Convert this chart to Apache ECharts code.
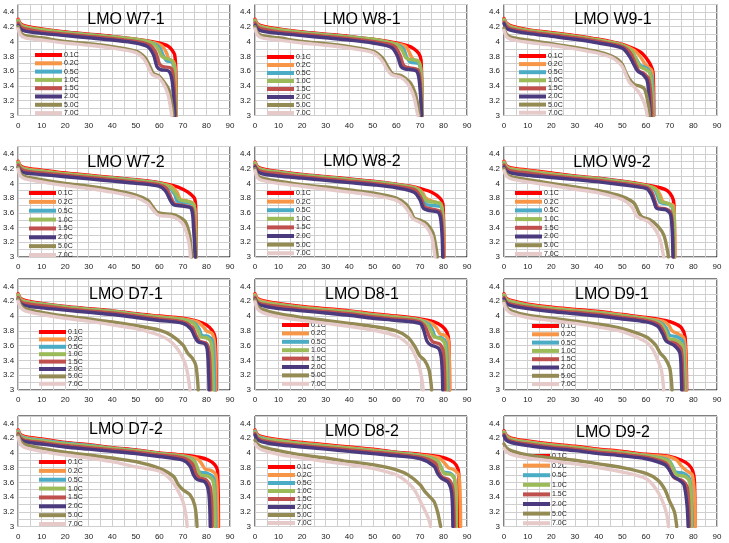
<!DOCTYPE html>
<html><head><meta charset="utf-8">
<script src="https://cdn.jsdelivr.net/npm/echarts/dist/echarts.min.js"></script>
<style>html,body{margin:0;padding:0;background:#fff}#c{width:729px;height:543px}</style>
</head><body><div id="c"></div>
<script>
const rates = ['0.1C','0.2C','0.5C','1.0C','1.5C','2.0C','5.0C','7.0C'];
const panelTitles = ['LMO W7-1','LMO W8-1','LMO W9-1','LMO W7-2','LMO W8-2','LMO W9-2','LMO D7-1','LMO D8-1','LMO D9-1','LMO D7-2','LMO D8-2','LMO D9-2'];
const xLabels = ['0','10','20','30','40','50','60','70','80','90'];
const yLabels = ['3','3.2','3.4','3.6','3.8','4','4.2','4.4'];

const W7_1 = [
 [[0,4.30],[1,4.24],[3,4.21],[10,4.17],[20,4.13],[30,4.10],[40,4.07],[50,4.03],[58,3.99],[62,3.96],[64,3.93],[65.5,3.88],[66.5,3.82],[67,3.6],[67.2,3.0]],
 [[0,4.29],[1,4.23],[3,4.20],[10,4.16],[20,4.12],[30,4.09],[40,4.06],[50,4.02],[58,3.98],[61,3.94],[63,3.85],[64,3.76],[66,3.73],[66.8,3.6],[67.1,3.0]],
 [[0,4.28],[1,4.22],[3,4.19],[10,4.15],[20,4.12],[30,4.09],[40,4.06],[50,4.02],[57,3.98],[60,3.92],[61.5,3.82],[63,3.74],[65.5,3.72],[66.5,3.6],[67,3.0]],
 [[0,4.28],[1,4.22],[3,4.19],[10,4.16],[20,4.12],[30,4.09],[40,4.06],[50,4.03],[57,3.98],[59.5,3.9],[61,3.8],[62,3.78],[65.5,3.74],[66.5,3.6],[67,3.0]],
 [[0,4.25],[1,4.2],[3,4.17],[10,4.13],[20,4.1],[30,4.07],[40,4.04],[50,4.0],[56,3.95],[58.5,3.85],[60,3.7],[61.5,3.66],[65,3.64],[66,3.5],[66.8,3.0]],
 [[0,4.22],[1,4.17],[3,4.14],[10,4.11],[20,4.08],[30,4.05],[40,4.02],[50,3.98],[55,3.93],[57.5,3.82],[59,3.66],[60.5,3.62],[64,3.6],[65.5,3.45],[66.5,3.0]],
 [[0,4.2],[1,4.12],[3,4.08],[10,4.05],[20,4.0],[30,3.97],[40,3.93],[50,3.87],[54,3.78],[56,3.66],[57.5,3.57],[60,3.53],[62,3.45],[64,3.35],[65.5,3.1],[65.8,3.0]],
 [[0,4.17],[1,4.09],[3,4.05],[10,4.02],[20,3.98],[30,3.95],[40,3.91],[50,3.85],[53.5,3.76],[55.5,3.64],[57,3.55],[59.5,3.52],[61.5,3.44],[63.5,3.3],[64.8,3.1],[65.2,3.0]]
];
const W8_1 = [
 [[0,4.3],[1,4.24],[3,4.21],[10,4.17],[20,4.13],[30,4.1],[40,4.07],[50,4.03],[60,3.98],[65,3.94],[67.5,3.9],[69.5,3.84],[70.5,3.75],[71,3.0]],
 [[0,4.29],[1,4.23],[3,4.2],[10,4.16],[20,4.12],[30,4.09],[40,4.06],[50,4.02],[60,3.97],[64,3.93],[66,3.82],[67.5,3.74],[69.5,3.72],[70.5,3.6],[71,3.0]],
 [[0,4.28],[1,4.22],[3,4.19],[10,4.15],[20,4.12],[30,4.09],[40,4.06],[50,4.02],[60,3.96],[63,3.9],[64.5,3.78],[66,3.72],[69.5,3.7],[70.5,3.55],[70.9,3.0]],
 [[0,4.28],[1,4.22],[3,4.19],[10,4.16],[20,4.12],[30,4.09],[40,4.06],[50,4.03],[60,3.96],[62.5,3.88],[64,3.78],[65.5,3.76],[69.5,3.73],[70.5,3.55],[70.9,3.0]],
 [[0,4.25],[1,4.2],[3,4.17],[10,4.13],[20,4.1],[30,4.07],[40,4.04],[50,4.0],[59,3.94],[61.5,3.82],[63,3.68],[64.5,3.65],[69,3.62],[70,3.5],[70.8,3.0]],
 [[0,4.22],[1,4.17],[3,4.14],[10,4.11],[20,4.08],[30,4.05],[40,4.02],[50,3.98],[58,3.92],[60.5,3.8],[62,3.66],[63.5,3.63],[68.5,3.6],[69.8,3.45],[70.7,3.0]],
 [[0,4.2],[1,4.12],[3,4.08],[10,4.05],[20,4.0],[30,3.97],[40,3.93],[50,3.87],[54,3.78],[56.5,3.65],[58.5,3.56],[62,3.54],[64,3.5],[66,3.44],[68,3.3],[69.3,3.1],[69.6,3.0]],
 [[0,4.17],[1,4.09],[3,4.05],[10,4.02],[20,3.98],[30,3.95],[40,3.91],[50,3.85],[53.5,3.76],[56,3.63],[58,3.55],[61.5,3.52],[63.5,3.48],[65.5,3.4],[67.5,3.25],[68.8,3.05],[69.2,3.0]]
];
const W9_1 = [
 [[0,4.31],[1,4.25],[3,4.21],[10,4.16],[20,4.12],[30,4.08],[40,4.03],[50,3.96],[55,3.9],[58,3.85],[60,3.78],[62,3.68],[63,3.58],[63.3,3.0]],
 [[0,4.3],[1,4.24],[3,4.2],[10,4.15],[20,4.11],[30,4.07],[40,4.02],[50,3.95],[55,3.88],[57.5,3.8],[59.5,3.7],[61,3.65],[62.5,3.6],[63.2,3.0]],
 [[0,4.29],[1,4.23],[3,4.19],[10,4.14],[20,4.1],[30,4.06],[40,4.01],[50,3.94],[54,3.86],[56,3.76],[57.5,3.68],[59,3.66],[61,3.62],[62.5,3.5],[63,3.0]],
 [[0,4.29],[1,4.23],[3,4.19],[10,4.15],[20,4.11],[30,4.07],[40,4.02],[50,3.95],[54,3.87],[56,3.75],[57.5,3.66],[59.5,3.63],[61.5,3.58],[62.4,3.4],[62.8,3.0]],
 [[0,4.26],[1,4.21],[3,4.17],[10,4.13],[20,4.09],[30,4.05],[40,4.0],[50,3.93],[53.5,3.84],[55.5,3.7],[57,3.6],[59,3.57],[61,3.5],[62,3.3],[62.5,3.0]],
 [[0,4.24],[1,4.18],[3,4.15],[10,4.11],[20,4.07],[30,4.03],[40,3.98],[50,3.91],[53,3.8],[55,3.68],[56.5,3.6],[58.5,3.56],[60.5,3.47],[61.4,3.2],[61.8,3.0]],
 [[0,4.18],[1,4.1],[3,4.06],[10,4.02],[20,3.97],[30,3.92],[40,3.86],[45,3.81],[48,3.76],[50,3.69],[51.5,3.58],[53,3.49],[55,3.42],[58,3.39],[59.5,3.35],[61,3.15],[61.5,3.0]],
 [[0,4.15],[1,4.07],[3,4.03],[10,3.99],[20,3.95],[30,3.9],[40,3.84],[45,3.79],[48,3.73],[50,3.66],[51.5,3.55],[53,3.45],[55.5,3.37],[57.5,3.29],[59.5,3.15],[60.5,3.0]]
];
const W7_2 = [
 [[0,4.3],[1,4.24],[3,4.21],[10,4.18],[20,4.14],[30,4.11],[40,4.08],[50,4.05],[60,4.01],[66,3.97],[70,3.92],[73,3.86],[75,3.79],[75.5,3.6],[75.7,3.0]],
 [[0,4.29],[1,4.23],[3,4.2],[10,4.17],[20,4.13],[30,4.1],[40,4.07],[50,4.04],[60,4.0],[65,3.96],[67.5,3.88],[69,3.78],[72,3.76],[74.5,3.72],[75.3,3.5],[75.6,3.0]],
 [[0,4.28],[1,4.22],[3,4.19],[10,4.16],[20,4.12],[30,4.09],[40,4.07],[50,4.04],[60,4.0],[64,3.95],[66.5,3.85],[67.5,3.76],[70,3.74],[74.5,3.71],[75.2,3.5],[75.5,3.0]],
 [[0,4.28],[1,4.22],[3,4.19],[10,4.16],[20,4.13],[30,4.1],[40,4.07],[50,4.04],[60,4.0],[64.5,3.95],[67,3.86],[68.5,3.78],[71,3.76],[74.5,3.72],[75.2,3.5],[75.5,3.0]],
 [[0,4.25],[1,4.2],[3,4.17],[10,4.14],[20,4.11],[30,4.08],[40,4.05],[50,4.02],[60,3.98],[63,3.93],[65,3.8],[66.5,3.72],[70,3.7],[74,3.66],[74.8,3.4],[75.3,3.0]],
 [[0,4.22],[1,4.17],[3,4.14],[10,4.12],[20,4.09],[30,4.06],[40,4.03],[50,4.0],[60,3.96],[62.5,3.9],[64.5,3.78],[66,3.71],[70,3.69],[73.5,3.66],[74.5,3.4],[75.2,3.0]],
 [[0,4.22],[1,4.13],[3,4.09],[10,4.05],[20,4.0],[30,3.96],[40,3.91],[50,3.84],[55,3.77],[57,3.69],[59,3.61],[61,3.59],[65,3.58],[68,3.55],[71,3.48],[72.8,3.3],[73.7,3.0]],
 [[0,4.19],[1,4.1],[3,4.06],[10,4.02],[20,3.97],[30,3.93],[40,3.88],[50,3.81],[55,3.73],[57,3.65],[59,3.58],[61,3.56],[65,3.55],[68,3.51],[70.5,3.42],[72.5,3.2],[73.2,3.0]]
];
const W8_2 = [
 [[0,4.29],[1,4.23],[3,4.2],[10,4.16],[20,4.12],[30,4.09],[40,4.06],[50,4.03],[60,3.99],[66,3.96],[70,3.93],[75,3.88],[78.5,3.8],[79.8,3.72],[80.2,3.0]],
 [[0,4.28],[1,4.22],[3,4.19],[10,4.15],[20,4.11],[30,4.08],[40,4.05],[50,4.02],[60,3.98],[68,3.94],[71,3.88],[72.5,3.8],[75,3.76],[78.5,3.72],[79.7,3.6],[80.1,3.0]],
 [[0,4.27],[1,4.21],[3,4.18],[10,4.15],[20,4.11],[30,4.08],[40,4.05],[50,4.02],[60,3.98],[69,3.92],[71,3.84],[72.5,3.72],[75,3.7],[79,3.68],[79.7,3.5],[80,3.0]],
 [[0,4.27],[1,4.21],[3,4.18],[10,4.15],[20,4.11],[30,4.08],[40,4.05],[50,4.02],[60,3.98],[69,3.92],[71.5,3.82],[73,3.76],[77,3.74],[79,3.72],[79.7,3.5],[80,3.0]],
 [[0,4.24],[1,4.19],[3,4.16],[10,4.13],[20,4.09],[30,4.06],[40,4.03],[50,4.0],[60,3.96],[68,3.91],[70.5,3.8],[72,3.68],[75,3.65],[78.5,3.62],[79.5,3.4],[79.9,3.0]],
 [[0,4.22],[1,4.16],[3,4.13],[10,4.1],[20,4.07],[30,4.04],[40,4.01],[50,3.98],[60,3.94],[67.5,3.88],[70,3.78],[71.5,3.66],[74,3.63],[78,3.6],[79.2,3.4],[79.7,3.0]],
 [[0,4.2],[1,4.11],[3,4.07],[10,4.03],[20,3.98],[30,3.95],[40,3.91],[50,3.87],[60,3.8],[64,3.72],[66,3.63],[67.5,3.53],[70,3.5],[73,3.45],[75.5,3.33],[77,3.1],[77.4,3.0]],
 [[0,4.17],[1,4.08],[3,4.04],[10,4.0],[20,3.96],[30,3.92],[40,3.88],[50,3.84],[60,3.77],[63.5,3.69],[65.5,3.6],[67,3.52],[69.5,3.48],[72.5,3.42],[75,3.28],[76.2,3.05],[76.4,3.0]]
];
const W9_2 = [
 [[0,4.3],[1,4.24],[3,4.21],[10,4.18],[20,4.14],[30,4.1],[40,4.07],[50,4.03],[60,3.98],[66,3.94],[69,3.9],[71,3.82],[71.8,3.72],[72.1,3.0]],
 [[0,4.29],[1,4.23],[3,4.2],[10,4.17],[20,4.13],[30,4.09],[40,4.06],[50,4.02],[60,3.97],[64,3.93],[66,3.84],[67,3.76],[69,3.73],[71.5,3.7],[72,3.5],[72.2,3.0]],
 [[0,4.28],[1,4.22],[3,4.19],[10,4.16],[20,4.12],[30,4.09],[40,4.06],[50,4.02],[60,3.96],[63.5,3.92],[65,3.82],[66,3.74],[69,3.72],[71,3.68],[71.7,3.5],[72,3.0]],
 [[0,4.28],[1,4.22],[3,4.19],[10,4.16],[20,4.12],[30,4.09],[40,4.06],[50,4.02],[60,3.97],[64,3.92],[65.5,3.82],[66.5,3.75],[69,3.73],[71.2,3.68],[71.8,3.5],[72,3.0]],
 [[0,4.25],[1,4.2],[3,4.17],[10,4.14],[20,4.1],[30,4.07],[40,4.04],[50,4.0],[60,3.95],[62.5,3.88],[64,3.74],[65,3.67],[68.5,3.65],[70.5,3.6],[71.2,3.4],[71.6,3.0]],
 [[0,4.22],[1,4.17],[3,4.14],[10,4.11],[20,4.08],[30,4.05],[40,4.02],[50,3.98],[60,3.93],[62,3.86],[63.5,3.74],[64.5,3.66],[68.5,3.64],[70.3,3.58],[71,3.4],[71.4,3.0]],
 [[0,4.2],[1,4.13],[3,4.09],[10,4.05],[20,4.0],[30,3.95],[40,3.9],[50,3.82],[55,3.73],[57,3.6],[58.5,3.54],[62,3.5],[65,3.42],[67.5,3.3],[69,3.1],[69.5,3.0]],
 [[0,4.17],[1,4.1],[3,4.06],[10,4.02],[20,3.97],[30,3.92],[40,3.87],[50,3.78],[54,3.68],[56,3.56],[58,3.52],[61,3.48],[64,3.37],[66,3.23],[67.2,3.05],[67.5,3.0]]
];
const D7_1 = [
 [[0,4.3],[1,4.24],[3,4.21],[10,4.17],[20,4.13],[30,4.1],[40,4.07],[50,4.03],[60,4.0],[70,3.97],[76,3.93],[80,3.88],[82.5,3.8],[83.7,3.7],[84.1,3.0]],
 [[0,4.29],[1,4.23],[3,4.2],[10,4.16],[20,4.12],[30,4.09],[40,4.06],[50,4.02],[60,3.99],[70,3.96],[76,3.92],[78.5,3.86],[80,3.8],[82.5,3.76],[83.5,3.6],[83.9,3.0]],
 [[0,4.28],[1,4.22],[3,4.19],[10,4.16],[20,4.12],[30,4.09],[40,4.06],[50,4.02],[60,3.98],[70,3.95],[75,3.9],[77,3.82],[78,3.74],[81,3.72],[82.5,3.66],[83.2,3.4],[83.5,3.0]],
 [[0,4.28],[1,4.22],[3,4.19],[10,4.16],[20,4.12],[30,4.09],[40,4.06],[50,4.02],[60,3.98],[70,3.95],[74.5,3.9],[76.5,3.8],[77.5,3.72],[80.5,3.7],[82,3.64],[82.6,3.4],[82.9,3.0]],
 [[0,4.25],[1,4.2],[3,4.17],[10,4.14],[20,4.1],[30,4.07],[40,4.04],[50,4.0],[60,3.96],[70,3.92],[74,3.85],[75.5,3.74],[77,3.66],[80,3.63],[81.2,3.5],[81.8,3.0]],
 [[0,4.23],[1,4.17],[3,4.14],[10,4.11],[20,4.08],[30,4.05],[40,4.02],[50,3.98],[60,3.94],[70,3.9],[73.5,3.82],[75,3.72],[76.5,3.65],[79.5,3.62],[80.5,3.5],[81.1,3.0]],
 [[0,4.23],[1,4.15],[3,4.1],[10,4.05],[20,4.0],[30,3.96],[40,3.92],[50,3.87],[60,3.81],[65,3.74],[70,3.61],[72,3.5],[74,3.43],[75.5,3.33],[76.3,3.1],[76.5,3.0]],
 [[0,4.2],[1,4.12],[3,4.07],[10,4.02],[20,3.97],[30,3.93],[40,3.88],[50,3.83],[60,3.74],[65,3.65],[68,3.54],[70,3.43],[71.5,3.3],[72.5,3.12],[73,3.0]]
];
const D8_1 = [
 [[0,4.3],[1,4.24],[3,4.21],[10,4.17],[20,4.13],[30,4.1],[40,4.07],[50,4.03],[60,4.0],[70,3.96],[76,3.92],[79.5,3.86],[81.5,3.78],[82.3,3.65],[82.6,3.0]],
 [[0,4.29],[1,4.23],[3,4.2],[10,4.16],[20,4.12],[30,4.09],[40,4.06],[50,4.02],[60,3.99],[70,3.95],[75,3.9],[77,3.84],[78.5,3.76],[80.5,3.74],[82,3.68],[82.5,3.4],[82.7,3.0]],
 [[0,4.27],[1,4.21],[3,4.18],[10,4.15],[20,4.11],[30,4.08],[40,4.05],[50,4.01],[60,3.98],[70,3.94],[74,3.88],[75.5,3.8],[76.5,3.72],[79.5,3.7],[81,3.64],[81.6,3.4],[81.9,3.0]],
 [[0,4.27],[1,4.21],[3,4.18],[10,4.15],[20,4.11],[30,4.08],[40,4.05],[50,4.01],[60,3.98],[70,3.94],[73.5,3.87],[75,3.78],[76,3.72],[79,3.69],[80.8,3.6],[81.4,3.0]],
 [[0,4.25],[1,4.19],[3,4.16],[10,4.13],[20,4.09],[30,4.06],[40,4.03],[50,3.99],[60,3.96],[70,3.92],[72.5,3.84],[74,3.72],[75.5,3.65],[78.5,3.62],[80,3.5],[80.6,3.0]],
 [[0,4.23],[1,4.17],[3,4.14],[10,4.1],[20,4.07],[30,4.04],[40,4.01],[50,3.97],[60,3.94],[70,3.9],[71.5,3.82],[73,3.66],[74.5,3.61],[78,3.56],[79.2,3.4],[79.7,3.0]],
 [[0,4.22],[1,4.14],[3,4.09],[10,4.03],[20,3.98],[30,3.94],[40,3.9],[50,3.86],[60,3.8],[65,3.71],[68,3.58],[70,3.46],[72,3.4],[73.8,3.28],[74.7,3.1],[75,3.0]],
 [[0,4.19],[1,4.1],[3,4.05],[10,3.99],[20,3.94],[30,3.9],[40,3.86],[50,3.81],[60,3.73],[65,3.62],[67.5,3.5],[69.5,3.34],[70.8,3.15],[71.4,3.0]]
];
const D9_1 = [
 [[0,4.3],[1,4.24],[3,4.21],[10,4.16],[20,4.12],[30,4.09],[40,4.06],[50,4.02],[60,3.98],[68,3.94],[72,3.9],[75,3.84],[76.5,3.72],[77.2,3.0]],
 [[0,4.29],[1,4.23],[3,4.2],[10,4.15],[20,4.11],[30,4.08],[40,4.05],[50,4.01],[60,3.97],[67,3.93],[69.5,3.88],[71,3.8],[73.5,3.76],[76,3.7],[76.8,3.4],[77,3.0]],
 [[0,4.28],[1,4.22],[3,4.19],[10,4.14],[20,4.1],[30,4.07],[40,4.04],[50,4.0],[60,3.96],[66,3.91],[68.5,3.84],[70,3.74],[73,3.72],[75.5,3.66],[76.2,3.4],[76.5,3.0]],
 [[0,4.28],[1,4.22],[3,4.19],[10,4.14],[20,4.1],[30,4.07],[40,4.04],[50,4.0],[60,3.96],[66,3.9],[68,3.82],[69.5,3.7],[73,3.67],[75.5,3.6],[76,3.3],[76.2,3.0]],
 [[0,4.25],[1,4.19],[3,4.16],[10,4.12],[20,4.08],[30,4.05],[40,4.02],[50,3.98],[60,3.94],[65.5,3.88],[67.5,3.78],[69,3.66],[72.5,3.63],[74.8,3.55],[75.4,3.3],[75.7,3.0]],
 [[0,4.23],[1,4.17],[3,4.14],[10,4.1],[20,4.06],[30,4.03],[40,4.0],[50,3.96],[60,3.92],[65,3.86],[67,3.76],[68.5,3.66],[72,3.6],[74.3,3.5],[74.9,3.2],[75.1,3.0]],
 [[0,4.2],[1,4.12],[3,4.07],[10,4.01],[20,3.97],[30,3.93],[40,3.89],[50,3.83],[60,3.72],[64,3.61],[66,3.5],[68,3.43],[70,3.3],[70.8,3.1],[71,3.0]],
 [[0,4.17],[1,4.09],[3,4.04],[10,3.98],[20,3.94],[30,3.9],[40,3.85],[50,3.79],[60,3.65],[63,3.54],[65,3.4],[66.5,3.27],[67.2,3.1],[67.5,3.0]]
];
const D7_2 = [
 [[0,4.31],[1,4.25],[3,4.22],[10,4.19],[20,4.14],[30,4.11],[40,4.07],[50,4.04],[60,4.0],[70,3.97],[77,3.94],[81,3.9],[83.5,3.84],[84.7,3.76],[85.1,3.0]],
 [[0,4.3],[1,4.24],[3,4.21],[10,4.18],[20,4.13],[30,4.1],[40,4.06],[50,4.03],[60,3.99],[70,3.96],[76,3.92],[78,3.85],[79.5,3.78],[82,3.76],[84,3.7],[84.6,3.4],[84.8,3.0]],
 [[0,4.29],[1,4.23],[3,4.2],[10,4.17],[20,4.13],[30,4.1],[40,4.06],[50,4.03],[60,3.99],[70,3.95],[74.5,3.9],[76,3.8],[77,3.74],[80.5,3.72],[83,3.66],[83.7,3.4],[84,3.0]],
 [[0,4.28],[1,4.22],[3,4.19],[10,4.16],[20,4.12],[30,4.09],[40,4.06],[50,4.03],[60,3.99],[70,3.95],[75,3.88],[76.5,3.76],[77.5,3.7],[81,3.68],[83,3.6],[83.6,3.0]],
 [[0,4.26],[1,4.2],[3,4.17],[10,4.14],[20,4.1],[30,4.07],[40,4.04],[50,4.01],[60,3.97],[70,3.93],[74,3.85],[75.5,3.72],[77,3.66],[80,3.63],[81.8,3.5],[82.4,3.0]],
 [[0,4.24],[1,4.18],[3,4.15],[10,4.12],[20,4.08],[30,4.05],[40,4.02],[50,3.99],[60,3.95],[70,3.9],[73,3.82],[74.5,3.7],[76,3.64],[79.5,3.6],[81,3.45],[81.6,3.0]],
 [[0,4.24],[1,4.16],[3,4.11],[10,4.06],[20,4.01],[30,3.97],[40,3.93],[50,3.88],[60,3.79],[66,3.68],[68,3.57],[70,3.5],[73,3.43],[75,3.29],[75.8,3.1],[76,3.0]],
 [[0,4.21],[1,4.12],[3,4.07],[10,4.02],[20,3.97],[30,3.93],[40,3.88],[50,3.81],[60,3.75],[65,3.63],[68,3.48],[70,3.34],[71.3,3.15],[71.8,3.0]]
];
const D8_2 = [
 [[0,4.31],[1,4.25],[3,4.22],[10,4.18],[20,4.14],[30,4.11],[40,4.08],[50,4.05],[60,4.01],[70,3.98],[78,3.95],[83,3.9],[85.5,3.83],[86.5,3.72],[86.8,3.0]],
 [[0,4.3],[1,4.24],[3,4.21],[10,4.17],[20,4.13],[30,4.1],[40,4.07],[50,4.04],[60,4.0],[70,3.97],[78,3.93],[80.5,3.86],[82,3.8],[84.5,3.77],[86.5,3.7],[87.1,3.4],[87.3,3.0]],
 [[0,4.29],[1,4.23],[3,4.2],[10,4.16],[20,4.12],[30,4.09],[40,4.06],[50,4.03],[60,4.0],[70,3.96],[77,3.9],[78.8,3.82],[80,3.74],[83,3.72],[84.8,3.64],[85.2,3.0]],
 [[0,4.28],[1,4.22],[3,4.19],[10,4.16],[20,4.12],[30,4.09],[40,4.06],[50,4.03],[60,4.0],[70,3.96],[77.5,3.89],[79,3.8],[80.3,3.72],[83.5,3.7],[85,3.6],[85.5,3.0]],
 [[0,4.26],[1,4.2],[3,4.17],[10,4.13],[20,4.1],[30,4.07],[40,4.04],[50,4.01],[60,3.98],[70,3.94],[76.5,3.86],[78,3.74],[79.5,3.67],[82.5,3.63],[84,3.5],[84.6,3.0]],
 [[0,4.24],[1,4.18],[3,4.15],[10,4.11],[20,4.08],[30,4.05],[40,4.02],[50,3.99],[60,3.96],[70,3.92],[76,3.82],[77.5,3.72],[79,3.66],[82,3.6],[83.5,3.45],[84,3.0]],
 [[0,4.17],[1,4.12],[3,4.08],[10,4.03],[20,3.97],[30,3.93],[40,3.88],[50,3.84],[60,3.77],[65,3.7],[70,3.57],[72,3.48],[74,3.41],[76,3.34],[77.5,3.2],[78.5,3.05],[78.8,3.0]],
 [[0,4.12],[1,4.08],[3,4.04],[10,3.98],[20,3.93],[30,3.88],[40,3.84],[50,3.79],[60,3.7],[65,3.59],[68,3.48],[71,3.29],[73,3.16],[74.2,3.05],[74.5,3.0]]
];
const D9_2 = [
 [[0,4.3],[1,4.24],[3,4.2],[10,4.16],[20,4.12],[30,4.09],[40,4.05],[50,4.02],[60,3.98],[70,3.95],[75,3.9],[78,3.84],[79.8,3.75],[80.5,3.6],[80.7,3.0]],
 [[0,4.29],[1,4.23],[3,4.19],[10,4.15],[20,4.11],[30,4.08],[40,4.04],[50,4.01],[60,3.97],[70,3.94],[73,3.9],[75,3.82],[77,3.76],[79.5,3.7],[80.5,3.4],[80.8,3.0]],
 [[0,4.28],[1,4.22],[3,4.18],[10,4.14],[20,4.1],[30,4.07],[40,4.03],[50,4.0],[60,3.96],[69.5,3.9],[71.5,3.8],[72.5,3.74],[76,3.72],[78.5,3.64],[79.2,3.3],[79.4,3.0]],
 [[0,4.28],[1,4.22],[3,4.18],[10,4.14],[20,4.1],[30,4.07],[40,4.03],[50,4.0],[60,3.96],[69.5,3.89],[71.5,3.78],[73,3.7],[76.5,3.68],[78.5,3.6],[79.2,3.0]],
 [[0,4.25],[1,4.19],[3,4.16],[10,4.12],[20,4.08],[30,4.05],[40,4.01],[50,3.98],[60,3.94],[68.5,3.86],[70.5,3.74],[72,3.66],[75.5,3.62],[77.5,3.52],[78.3,3.0]],
 [[0,4.23],[1,4.17],[3,4.14],[10,4.1],[20,4.06],[30,4.03],[40,3.99],[50,3.96],[60,3.92],[68,3.84],[70,3.76],[71.5,3.68],[74,3.63],[76,3.57],[77.3,3.3],[77.8,3.0]],
 [[0,4.12],[1,4.07],[3,4.03],[10,3.97],[20,3.93],[30,3.9],[40,3.85],[50,3.8],[60,3.72],[65,3.63],[68,3.5],[70,3.34],[72,3.2],[72.8,3.05],[73,3.0]],
 [[0,4.06],[1,4.02],[3,3.98],[10,3.93],[20,3.89],[30,3.85],[40,3.8],[50,3.74],[60,3.65],[64,3.52],[67,3.34],[68.8,3.16],[69.3,3.05],[69.5,3.0]]
];

const panels = [W7_1, W8_1, W9_1, W7_2, W8_2, W9_2, D7_1, D8_1, D9_1, D7_2, D8_2, D9_2];

// layout / style (not data)
const colors = ['#FF0000','#F79646','#4BACC6','#9BBB59','#C0504D','#4B3A7E','#948A54','#E6CACA'];
const colL = [17, 255, 504], colR = [230, 467, 717];
const rowT = [4.5, 146.5, 279, 416], rowB = [115.5, 257, 390, 526.5];
const titleCX = [126, 362, 613, 126, 362, 612, 126, 362, 612, 126, 362, 613];
const titleCY = [20, 20, 20, 163, 162, 163, 295, 295, 295, 430, 432, 433];
const legX = [35, 267, 519, 29, 267, 515, 39, 282, 532, 39, 268, 523];
const legY = [55, 57, 56, 193, 193, 193, 332, 325, 326, 462, 467, 456];
const legS = [8.3, 8, 8.1, 8.86, 8.6, 8.7, 7.4, 8.4, 8.3, 8.86, 8, 9.6];

const grids = [], xAxes = [], yAxes = [], series = [], legends = [], graphics = [];
panels.forEach((p, i) => {
  const r = Math.floor(i / 3), c = i % 3;
  grids.push({left: colL[c], top: rowT[r], width: colR[c] - colL[c], height: rowB[r] - rowT[r],
    show: true, borderColor: '#000', borderWidth: 1, containLabel: false});
  xAxes.push({gridIndex: i, type: 'value', min: 0, max: 90, interval: 5,
    axisLine: {show: false}, axisTick: {show: false},
    splitLine: {show: true, lineStyle: {color: '#cfcfcf', width: 1}},
    axisLabel: {fontSize: 8, color: '#222', margin: 6, fontFamily: 'Liberation Sans',
      formatter: v => { const s = String(Math.round(v)); return xLabels.includes(s) && Math.abs(v % 10) < 1e-6 ? s : ''; }}});
  yAxes.push({gridIndex: i, type: 'value', min: 3, max: 4.5, interval: 0.1,
    axisLine: {show: false}, axisTick: {show: false},
    splitLine: {show: true, lineStyle: {color: '#cfcfcf', width: 1}},
    axisLabel: {fontSize: 8, color: '#222', margin: 4, fontFamily: 'Liberation Sans',
      formatter: v => { const s = String(Math.round(v * 10) / 10); return yLabels.includes(s) ? s : ''; }}});
  p.forEach((curve, j) => {
    series.push({type: 'line', name: rates[j], xAxisIndex: i, yAxisIndex: i, data: curve,
      showSymbol: false, smooth: 0.3, silent: true, clip: true,
      lineStyle: {width: 3.4, color: colors[j], cap: 'round', join: 'round'}, itemStyle: {color: colors[j]}, z: 2 + j});
  });
  legends.push({orient: 'vertical', left: legX[i], top: legY[i] - legS[i] / 2, padding: 0,
    itemWidth: 27, itemHeight: 4, itemGap: 0, icon: 'rect', selectedMode: false, data: rates,
    textStyle: {fontSize: 7, color: '#222', lineHeight: legS[i], fontFamily: 'Liberation Sans', padding: [0, 0, 0, -3]}});
  graphics.push({type: 'text', x: titleCX[i], y: titleCY[i], z: 100,
    style: {text: panelTitles[i], fill: '#000', font: '16px "Liberation Sans"', textAlign: 'center', textVerticalAlign: 'middle'}});
});

const chart = echarts.init(document.getElementById('c'), null, {renderer: 'canvas'});
chart.setOption({
  animation: false, backgroundColor: '#fff',
  color: colors,
  grid: grids, xAxis: xAxes, yAxis: yAxes, series: series, legend: legends, graphic: graphics
});
</script>
</body></html>
